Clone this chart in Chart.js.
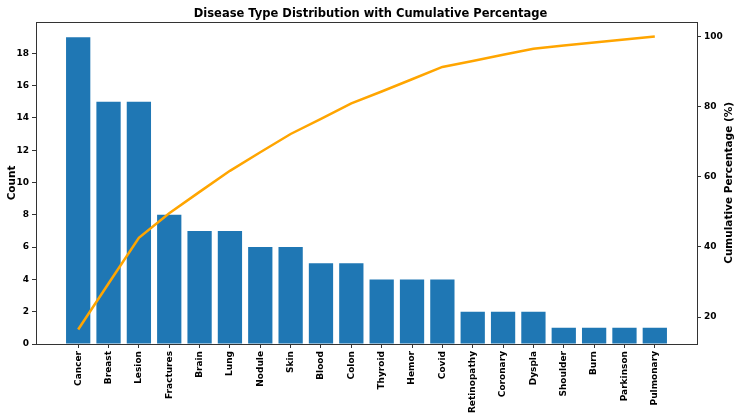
<!DOCTYPE html>
<html>
<head>
<meta charset="utf-8">
<script src="https://cdn.jsdelivr.net/npm/chart.js@4.4.0/dist/chart.umd.min.js"></script>
<style>
  html, body { margin: 0; padding: 0; background: #fff; }
  #wrap { width: 741px; height: 416px; position: relative; }
</style>
</head>
<body>
<div id="wrap"><canvas id="grafico"></canvas></div>
<script>
/* DATOS */
const categorias = ['Cancer', 'Breast', 'Lesion', 'Fractures', 'Brain', 'Lung', 'Nodule', 'Skin', 'Blood', 'Colon',
  'Thyroid', 'Hemor', 'Covid', 'Retinopathy', 'Coronary', 'Dyspla', 'Shoulder', 'Burn', 'Parkinson', 'Pulmonary'];
const conteos = [19, 15, 15, 8, 7, 7, 6, 6, 5, 5, 4, 4, 4, 2, 2, 2, 1, 1, 1, 1];
const acumulado = [16.5, 29.6, 42.6, 49.6, 55.7, 61.7, 67.0, 72.2, 76.5, 80.9,
  84.3, 87.8, 91.3, 93.0, 94.8, 96.5, 97.4, 98.3, 99.1, 100];
const ticksConteo = [0, 2, 4, 6, 8, 10, 12, 14, 16, 18];
const ticksPorcentaje = [20, 40, 60, 80, 100];

const fuente = 'DejaVu Sans';

// marco completo + titulos de ejes a mano
const marco = {
  id: 'marco',
  afterDraw(chart) {
    const c = chart.ctx, a = chart.chartArea;
    c.save();
    c.strokeStyle = '#333';
    c.lineWidth = 1;
    c.strokeRect(Math.round(a.left) + 0.5, Math.round(a.top) + 0.5,
      Math.round(a.right - a.left), Math.round(a.bottom - a.top));
    c.font = 'bold 10.5px ' + fuente;
    c.fillStyle = '#000';
    c.textAlign = 'center';
    c.textBaseline = 'middle';
    const medio = (a.top + a.bottom) / 2;
    c.save();
    c.translate(12, medio);
    c.rotate(-Math.PI / 2);
    c.fillText('Count', 0, 0);
    c.restore();
    c.translate(729, medio);
    c.rotate(-Math.PI / 2);
    c.fillText('Cumulative Percentage (%)', 0, 0);
    c.restore();
  }
};

const ctx = document.getElementById('grafico').getContext('2d');

new Chart(ctx, {
  data: {
    datasets: [{
      type: 'line',
      data: acumulado.map((v, i) => ({ x: i, y: v })),
      yAxisID: 'y1',
      borderColor: '#FFA500',
      borderWidth: 2.5,
      pointRadius: 0,
      fill: false,
      tension: 0,
      order: 0
    }, {
      type: 'bar',
      data: conteos.map((v, i) => ({ x: i, y: v })),
      yAxisID: 'y',
      backgroundColor: '#1f77b4',
      borderWidth: 0,
      barPercentage: 0.8,
      categoryPercentage: 1,
      order: 1
    }]
  },
  options: {
    responsive: true,
    maintainAspectRatio: false,
    animation: false,
    plugins: {
      legend: { display: false },
      tooltip: { enabled: false },
      title: {
        display: true,
        text: 'Disease Type Distribution with Cumulative Percentage',
        color: '#000',
        font: { family: fuente, size: 11.5, weight: 'bold' },
        padding: { top: 7, bottom: 1 }
      }
    },
    scales: {
      x: {
        type: 'linear',
        offset: false,
        min: -1.39,
        max: 20.39,
        afterBuildTicks: s => { s.ticks = categorias.map((c, i) => ({ value: i })); },
        afterFit: s => { s.height = 72; },
        ticks: {
          autoSkip: false,
          minRotation: 90,
          maxRotation: 90,
          padding: 3,
          color: '#000',
          font: { family: fuente, size: 9, weight: 'bold' },
          callback: v => categorias[v]
        },
        grid: { offset: false, drawOnChartArea: false, drawTicks: true, tickLength: 4, color: '#333' },
        border: { display: false }
      },
      y: {
        position: 'left',
        min: 0,
        max: 19.95,
        afterBuildTicks: s => { s.ticks = ticksConteo.map(v => ({ value: v })); },
        afterFit: s => { s.width = 36; },
        ticks: {
          padding: 3,
          color: '#000',
          font: { family: fuente, size: 9, weight: 'bold' }
        },
        grid: { drawOnChartArea: false, drawTicks: true, tickLength: 4, color: '#333' },
        border: { display: false }
      },
      y1: {
        position: 'right',
        min: 12.35,
        max: 104.17,
        afterBuildTicks: s => { s.ticks = ticksPorcentaje.map(v => ({ value: v })); },
        afterFit: s => { s.width = 44; },
        ticks: {
          padding: 3,
          color: '#000',
          font: { family: fuente, size: 9, weight: 'bold' }
        },
        grid: { drawOnChartArea: false, drawTicks: true, tickLength: 4, color: '#333' },
        border: { display: false }
      }
    }
  },
  plugins: [marco]
});
</script>
</body>
</html>
